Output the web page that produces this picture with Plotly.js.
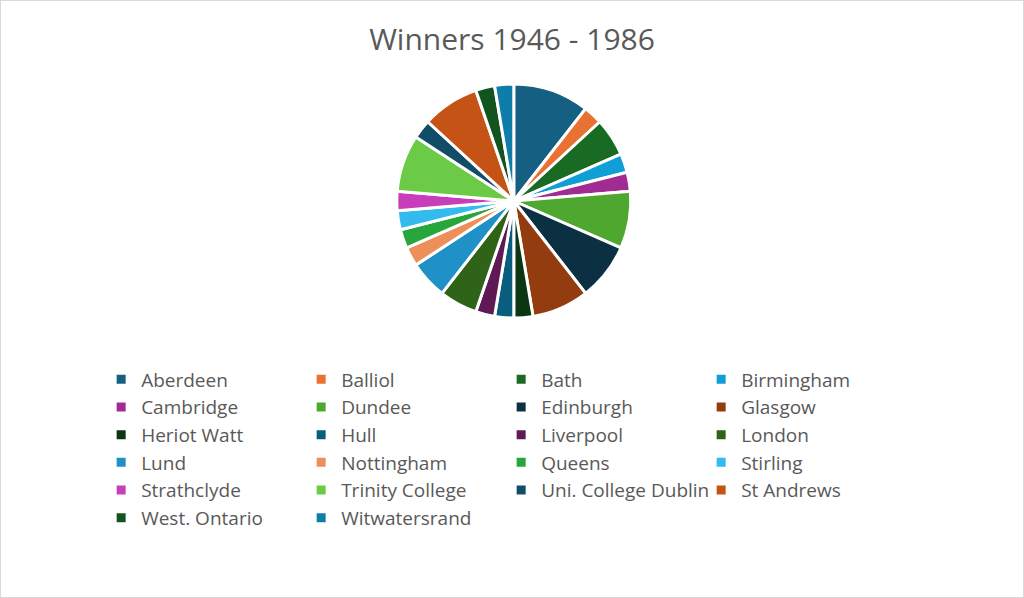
<!DOCTYPE html>
<html>
<head>
<meta charset="utf-8">
<script src="https://cdn.plot.ly/plotly-3.0.1.min.js"></script>
<style>
  html, body { margin: 0; padding: 0; background: #fff; }
  #myDiv { width: 1022px; height: 596px; border: 1px solid #d9d9d9; }
</style>
</head>
<body>
<div id="myDiv"></div>
<script>
// Winners per university, 1946 - 1986
var universities = ['Aberdeen', 'Balliol', 'Bath', 'Birmingham', 'Cambridge', 'Dundee',
  'Edinburgh', 'Glasgow', 'Heriot Watt', 'Hull', 'Liverpool', 'London',
  'Lund', 'Nottingham', 'Queens', 'Stirling', 'Strathclyde', 'Trinity College',
  'Uni. College Dublin', 'St Andrews', 'West. Ontario', 'Witwatersrand'];
var wins = [4, 1, 2, 1, 1, 3, 3, 3, 1, 1, 1, 2, 2, 1, 1, 1, 1, 3, 1, 3, 1, 1];
var sliceColors = ['#156082', '#E97132', '#196B24', '#0F9ED5', '#A02B93', '#4EA72E',
  '#0B3041', '#923C0F', '#0C3512', '#095E80', '#5F1A56', '#2F6318',
  '#1F91C6', '#ED8F5B', '#26A63B', '#33BBF0', '#C83EBA', '#6BCB46',
  '#124D68', '#C65316', '#125420', '#0F7DA9'];

var data = [{
  type: 'pie',
  labels: universities,
  values: wins,
  sort: false,
  direction: 'clockwise',
  rotation: 0,
  textinfo: 'none',
  hoverinfo: 'label+value',
  marker: {
    colors: sliceColors,
    line: { color: '#ffffff', width: 3 }
  },
  // legend reserves the bottom of the page, so the plot area is the top part
  domain: { x: [0.409, 0.809], y: [0.118, 0.769] }
}];

var layout = {
  title: {
    text: 'Winners 1946 - 1986',
    font: { family: 'Open Sans, sans-serif', size: 30, color: '#595959' },
    x: 0.5, xanchor: 'center',
    y: 0.936, yanchor: 'middle'
  },
  font: { family: 'Open Sans, sans-serif', color: '#595959' },
  showlegend: true,
  legend: {
    orientation: 'h',
    xref: 'container', yref: 'container',
    x: 0.098, xanchor: 'left',
    y: 0.397, yanchor: 'top',
    font: { size: 19, color: '#595959' },
    entrywidth: 155,
    entrywidthmode: 'pixels',
    traceorder: 'normal'
  },
  margin: { l: 0, r: 180, t: 0, b: 0 },
  paper_bgcolor: '#ffffff'
};

Plotly.newPlot('myDiv', data, layout, { displayModeBar: false });
</script>
</body>
</html>
